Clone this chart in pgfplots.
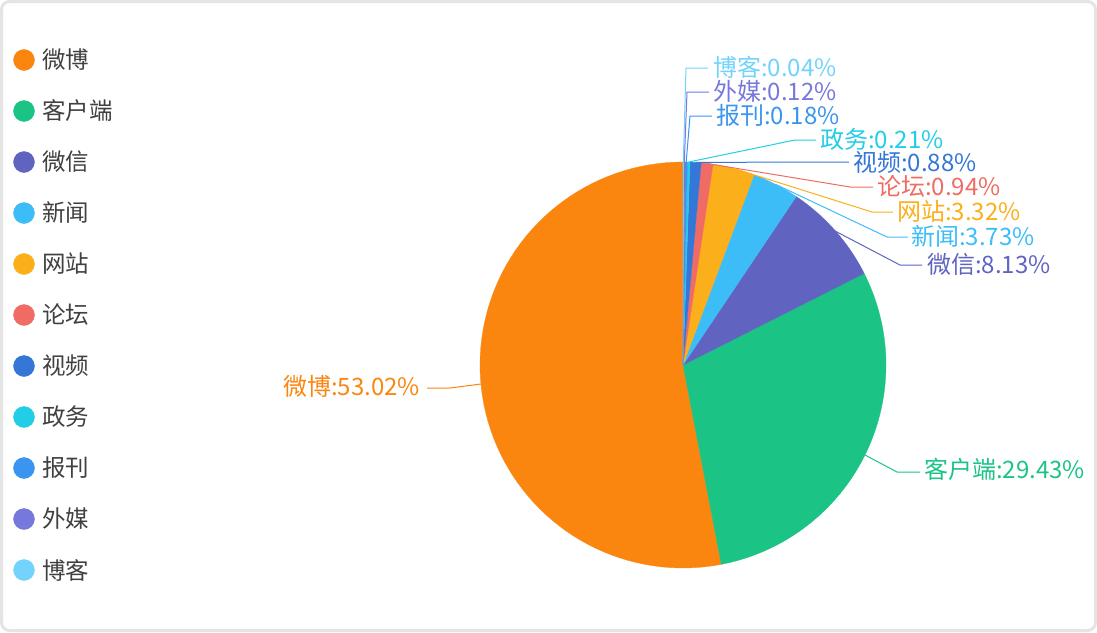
\documentclass[border=0pt]{standalone}
\usepackage{pgfplots}
\pgfplotsset{compat=1.18}
\usepackage{fontspec}
\setmainfont{Noto Sans CJK SC}
\definecolor{cWB}{HTML}{FA860F}
\definecolor{cKH}{HTML}{1BC485}
\definecolor{cWX}{HTML}{6064C0}
\definecolor{cXW}{HTML}{3DBDF8}
\definecolor{cWZ}{HTML}{FBAF1B}
\definecolor{cLT}{HTML}{F06B63}
\definecolor{cSP}{HTML}{3477D6}
\definecolor{cZW}{HTML}{22CDE6}
\definecolor{cBK}{HTML}{3A95F0}
\definecolor{cWM}{HTML}{7678DB}
\definecolor{cBO}{HTML}{73D3FD}
\definecolor{legtext}{HTML}{404040}
\definecolor{frame}{HTML}{E4E4E4}
\def\cum{0}
\newcommand\slice[2]{%
  \pgfmathsetmacro\sa{90+3.6*\cum}%
  \pgfmathsetmacro\sb{90+3.6*(\cum+#1)}%
  \edef\doslice{\noexpand\addplot[fill=#2, draw=#2, line width=0.3pt, domain=\sa:\sb, samples=80, variable=\noexpand\t] ({683+203*cos(\noexpand\t)},{365-203*sin(\noexpand\t)}) -- (axis cs:683,365) -- cycle;}%
  \doslice
  \pgfmathsetmacro\newcum{\cum+#1}\global\let\cum\newcum
}
\newcommand\legitem[3]{%
  \addplot[only marks, mark=*, mark size=10.5pt, color=#3] coordinates {(24,#1)};
  \node[anchor=west, inner sep=0pt, text=legtext, font=\fontsize{23.5}{27}\selectfont] at (axis cs:42,#1) {#2};
}
\newcommand\lbl[6]{% color, x-anchor, y, text, anchor, line coords
  \addplot[color=#1, line width=1pt] coordinates {#6};
  \node[anchor=#5, inner sep=0pt, text=#1, font=\fontsize{24}{28}\selectfont] at (axis cs:#2,#3) {#4};
}
\begin{document}
\begin{tikzpicture}
\useasboundingbox (0,0) rectangle (1097pt,632pt);
\begin{axis}[
  at={(0,0)}, anchor=south west,
  width=1097pt, height=632pt, scale only axis,
  xmin=0, xmax=1097, ymin=0, ymax=632, y dir=reverse,
  hide axis, clip=false,
]
\draw[frame, line width=3pt, rounded corners=8pt] (axis cs:1.5,1.5) rectangle (axis cs:1095.5,630.5);
% pie, counterclockwise from the top
\slice{53.02}{cWB}
\slice{29.43}{cKH}
\slice{8.13}{cWX}
\slice{3.73}{cXW}
\slice{3.32}{cWZ}
\slice{0.94}{cLT}
\slice{0.88}{cSP}
\slice{0.21}{cZW}
\slice{0.18}{cBK}
\slice{0.12}{cWM}
\slice{0.04}{cBO}
% labels
\lbl{cBO}{713}{67}{博客:0.04\%}{west}{(683.3,162) (686,68) (708,68)}
\lbl{cWM}{713}{91}{外媒:0.12\%}{west}{(684.3,162) (687,92) (709,92)}
\lbl{cBK}{716}{115}{报刊:0.18\%}{west}{(686.2,162) (690,116) (712,116)}
\lbl{cZW}{820}{139}{政务:0.21\%}{west}{(688.7,162) (795,140) (816,140)}
\lbl{cSP}{853}{162}{视频:0.88\%}{west}{(695.6,162.4) (828,162) (849,162)}
\lbl{cLT}{877}{186}{论坛:0.94\%}{west}{(707,163.5) (850,187) (873,187)}
\lbl{cWZ}{897}{211}{网站:3.32\%}{west}{(734,168.5) (872,212) (893,212)}
\lbl{cXW}{911}{236}{新闻:3.73\%}{west}{(776,184.5) (887,237) (908,237)}
\lbl{cWX}{927}{264}{微信:8.13\%}{west}{(835,231) (900,265) (922,265)}
\lbl{cKH}{924}{469}{客户端:29.43\%}{west}{(865,455) (897,472) (920,472)}
\lbl{cWB}{420}{386}{微博:53.02\%}{east}{(481,384) (450,388) (427,388)}
% legend
\legitem{60}{微博}{cWB}
\legitem{111}{客户端}{cKH}
\legitem{162}{微信}{cWX}
\legitem{213}{新闻}{cXW}
\legitem{264}{网站}{cWZ}
\legitem{315}{论坛}{cLT}
\legitem{366}{视频}{cSP}
\legitem{417}{政务}{cZW}
\legitem{468}{报刊}{cBK}
\legitem{519}{外媒}{cWM}
\legitem{570}{博客}{cBO}
\end{axis}
\end{tikzpicture}
\end{document}
